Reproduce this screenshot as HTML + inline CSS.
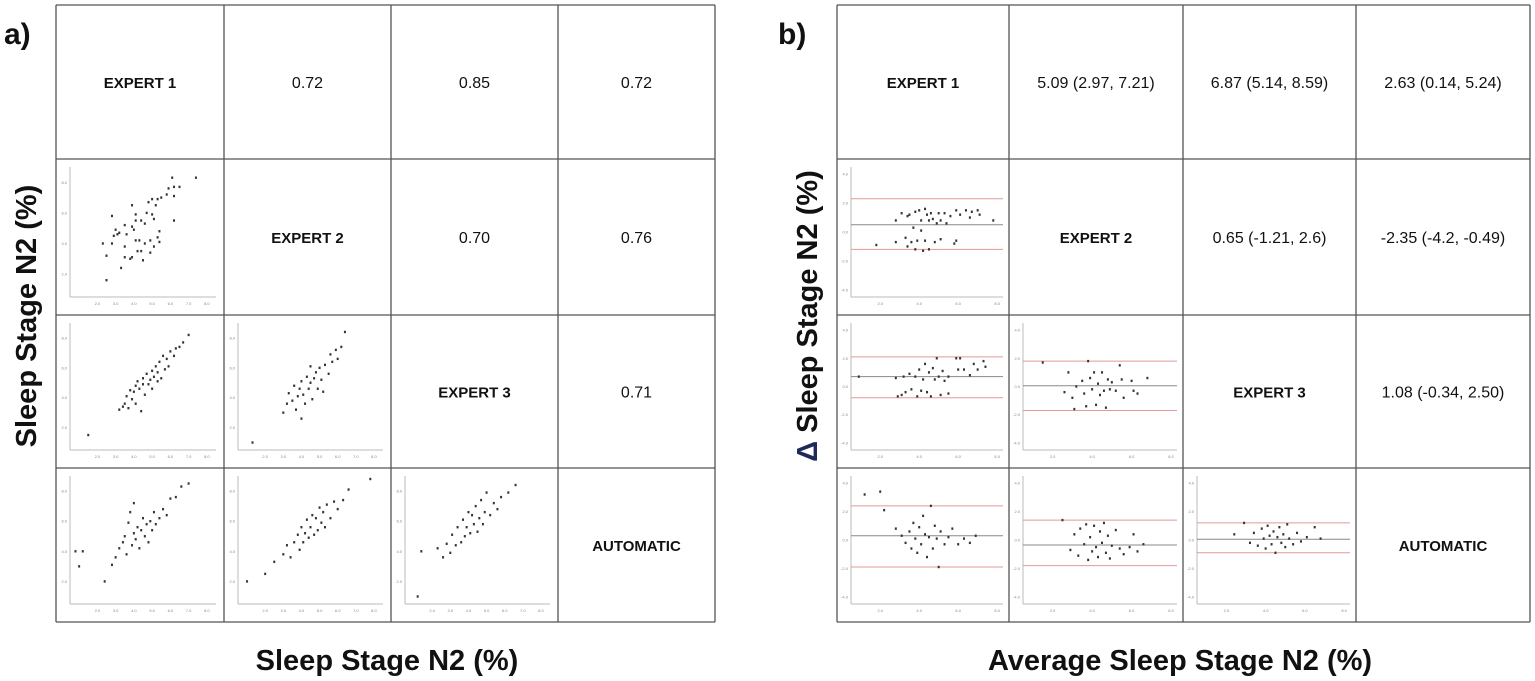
<!DOCTYPE html>
<html><head><meta charset="utf-8">
<style>
body{margin:0;background:#fff;width:1535px;height:681px;overflow:hidden;font-family:"Liberation Sans",sans-serif;}
svg{display:block}
</style></head>
<body>
<svg id="fig" width="1535" height="681" xmlns="http://www.w3.org/2000/svg" font-family="Liberation Sans, sans-serif"></svg>
<script>
// ---- data ----
const labels = ["EXPERT 1","EXPERT 2","EXPERT 3","AUTOMATIC"];
const corrValues = {"0-1":"0.72","0-2":"0.85","0-3":"0.72","1-2":"0.70","1-3":"0.76","2-3":"0.71"};
const biasValues = {"0-1":"5.09 (2.97, 7.21)","0-2":"6.87 (5.14, 8.59)","0-3":"2.63 (0.14, 5.24)","1-2":"0.65 (-1.21, 2.6)","1-3":"-2.35 (-4.2, -0.49)","2-3":"1.08 (-0.34, 2.50)"};
const scatterTicks = [2,3,4,5,6,7,8];
const baTicks = [-4,-2,0,2,4];
const sc10 = [[2.3,4],[2.5,3.2],[2.5,1.6],[2.8,4],[2.8,5.8],[2.9,4.5],[3,4.9],[3.1,4.6],[3.2,4.7],[3.3,2.4],[3.5,3.1],[3.5,3.8],[3.5,5.2],[3.6,4.6],[3.8,3],[3.9,3.1],[3.9,6.5],[3.9,5.1],[4,4.9],[4.1,4.2],[4.1,5.9],[4.1,5.5],[4.2,3.5],[4.3,4.2],[4.4,3.5],[4.4,5.5],[4.5,2.9],[4.6,4],[4.6,5.3],[4.7,6],[4.8,6.7],[4.9,4.2],[4.9,3.4],[5,6.9],[5,5.9],[5.1,3.8],[5.1,5.6],[5.2,6.5],[5.3,4.4],[5.3,6.9],[5.4,4.8],[5.4,4.1],[5.5,7],[5.8,7.2],[5.9,7.6],[6.1,8.3],[6.2,5.5],[6.2,7.1],[6.2,7.7],[6.5,7.7],[7.4,8.3]];
const sc20 = [[1.5,1.5],[3.2,3.2],[3.4,3.4],[3.5,3.6],[3.6,4.1],[3.7,3.3],[3.8,4.5],[3.9,3.9],[4,4.4],[4.1,4.8],[4.1,3.6],[4.2,5.1],[4.3,4.6],[4.4,3.1],[4.5,4.9],[4.5,5.3],[4.6,4.2],[4.7,5.6],[4.8,4.9],[4.9,5.2],[5,5.8],[5,4.6],[5.1,5.4],[5.2,6.1],[5.3,5.1],[5.3,5.7],[5.4,6.4],[5.5,5.3],[5.6,6.8],[5.7,5.9],[5.8,6.6],[5.9,6.1],[6,7.1],[6.2,6.8],[6.3,7.3],[6.5,7.4],[6.7,7.7],[7,8.2]];
const sc21 = [[1.3,1],[3,3],[3.2,3.6],[3.3,4.3],[3.5,3.8],[3.6,4.8],[3.7,3.2],[3.8,4.1],[3.9,4.6],[4,2.6],[4,5.1],[4.1,4.2],[4.2,3.6],[4.3,5.4],[4.4,4.6],[4.5,5],[4.5,6.1],[4.6,3.9],[4.7,5.3],[4.8,5.7],[4.9,4.6],[5,6],[5.1,5.2],[5.2,4.4],[5.3,6.2],[5.5,5.6],[5.6,6.9],[5.7,6.4],[5.9,7.2],[6,6.6],[6.2,7.4],[6.4,8.4]];
const sc30 = [[0.8,4],[1,3],[1.2,4],[2.4,2],[2.8,3.1],[3,3.6],[3.2,4.2],[3.4,4.6],[3.5,5],[3.6,3.8],[3.7,5.9],[3.8,6.6],[3.9,4.4],[4,5.2],[4,7.2],[4.1,4.8],[4.2,5.6],[4.3,4.2],[4.4,5.4],[4.5,6.2],[4.6,5],[4.7,5.8],[4.8,4.6],[4.9,6],[5,5.4],[5.1,6.6],[5.2,5.8],[5.4,6.2],[5.6,6.8],[5.8,6.4],[6,7.5],[6.3,7.6],[6.6,8.3],[7,8.5]];
const sc31 = [[1,2],[2,2.5],[2.5,3.3],[3,3.8],[3.2,4.4],[3.4,3.6],[3.6,4.6],[3.8,5.1],[3.9,4.1],[4,5.6],[4.1,4.6],[4.2,5.2],[4.3,6.1],[4.4,4.9],[4.5,5.6],[4.6,6.4],[4.7,5.1],[4.8,6.2],[4.9,5.4],[5,6.9],[5.1,5.9],[5.2,6.6],[5.3,5.6],[5.4,7.1],[5.6,6.2],[5.8,7.3],[6,6.8],[6.3,7.4],[6.6,8.1],[7.8,8.8]];
const sc32 = [[1.2,1],[1.4,4],[2.3,4.2],[2.6,3.6],[2.8,4.5],[3,3.9],[3.1,5.1],[3.3,4.4],[3.4,5.6],[3.6,4.6],[3.7,6.1],[3.8,5],[3.9,5.6],[4,6.6],[4.1,5.2],[4.2,6.4],[4.3,5.8],[4.4,7],[4.5,5.3],[4.6,6.2],[4.7,7.4],[4.8,5.8],[4.9,6.6],[5,7.9],[5.2,6.4],[5.4,7.2],[5.6,6.8],[5.8,7.6],[6.2,7.9],[6.6,8.4]];
const baMeans = {"1-0":0.5,"2-0":0.7,"2-1":0.05,"3-0":0.3,"3-1":-0.35,"3-2":0.05};
const baUpper = {"1-0":2.3,"2-0":2.1,"2-1":1.8,"3-0":2.4,"3-1":1.4,"3-2":1.2};
const baLower = {"1-0":-1.2,"2-0":-0.8,"2-1":-1.7,"3-0":-1.9,"3-1":-1.8,"3-2":-0.9};
const ba10 = [[1.8,-0.9],[2.8,-0.7],[2.8,0.8],[3.1,1.3],[3.3,-0.4],[3.4,1.1],[3.4,-1],[3.5,1.2],[3.6,-0.7],[3.7,0.3],[3.8,1.4],[3.8,-1.2],[3.9,-0.6],[4,1.5],[4.1,0.8],[4.1,0.1],[4.2,-1.3],[4.3,1.6],[4.3,-0.6],[4.4,1.2],[4.5,0.8],[4.5,-1.2],[4.6,1.3],[4.7,0.9],[4.8,-0.7],[4.9,0.6],[5,1.3],[5.1,0.8],[5.1,-0.5],[5.3,1.3],[5.4,0.6],[5.6,1.1],[5.8,-0.8],[5.9,-0.6],[5.9,1.5],[6.1,1.2],[6.4,1.5],[6.6,1],[6.7,1.4],[7,1.5],[7.1,1.2],[7.8,0.8]];
const ba20 = [[0.9,0.7],[2.8,0.6],[2.9,-0.7],[3.1,-0.6],[3.2,0.7],[3.3,-0.4],[3.5,0.9],[3.6,-0.2],[3.8,0.7],[3.9,-0.7],[4,1.2],[4.1,-0.3],[4.2,0.5],[4.3,1.6],[4.4,-0.4],[4.5,1.0],[4.6,-0.7],[4.7,1.3],[4.8,0.5],[4.9,2],[5,0.7],[5.1,-0.6],[5.2,1.1],[5.3,0.4],[5.5,0.7],[5.5,-0.5],[5.9,2],[6,1.2],[6.1,2],[6.3,1.2],[6.6,0.8],[6.8,1.6],[7,1.2],[7.3,1.8],[7.4,1.4]];
const ba21 = [[1.5,1.7],[2.6,-0.4],[2.8,1.0],[3,-0.8],[3.1,-1.6],[3.2,0],[3.5,0.4],[3.6,-0.5],[3.7,-1.4],[3.8,1.8],[3.9,0.6],[4,-0.2],[4.1,1.0],[4.2,-1.3],[4.3,0.2],[4.4,-0.6],[4.5,1.0],[4.6,-0.3],[4.7,-1.5],[4.8,0.5],[4.9,-0.2],[5,0.3],[5.2,-0.3],[5.4,1.5],[5.5,0.5],[5.6,-0.8],[6,0.4],[6.1,-0.3],[6.3,-0.5],[6.8,0.6]];
const ba30 = [[1.2,3.2],[2,3.4],[2.2,2.1],[2.8,0.8],[3.1,0.3],[3.3,-0.2],[3.5,0.6],[3.6,-0.6],[3.7,1.2],[3.8,0.1],[3.9,-0.9],[4,0.9],[4.1,-0.3],[4.2,1.7],[4.3,0.4],[4.4,-1.2],[4.5,0.2],[4.6,2.4],[4.7,-0.6],[4.8,1.0],[4.9,0.1],[5,-1.9],[5.1,0.6],[5.3,-0.3],[5.5,0.2],[5.7,0.8],[6,-0.3],[6.3,0.1],[6.6,-0.2],[6.9,0.3]];
const ba31 = [[2.5,1.4],[2.9,-0.7],[3.1,0.4],[3.3,-1.1],[3.4,0.8],[3.6,-0.3],[3.7,1.1],[3.8,-1.4],[3.9,0.2],[4,-0.8],[4.1,1.0],[4.2,-0.5],[4.3,-1.2],[4.4,0.6],[4.5,-0.2],[4.6,1.2],[4.7,-0.9],[4.8,0.3],[4.9,-1.3],[5,-0.4],[5.2,0.7],[5.4,-0.6],[5.6,-1.0],[5.9,-0.5],[6.1,0.4],[6.3,-0.8],[6.6,-0.3]];
const ba32 = [[2.4,0.4],[2.9,1.2],[3.2,-0.2],[3.4,0.5],[3.6,-0.4],[3.8,0.8],[3.9,0.1],[4,-0.6],[4.1,1.0],[4.2,0.3],[4.3,-0.3],[4.4,0.6],[4.5,-0.9],[4.6,0.2],[4.7,0.9],[4.8,-0.2],[4.9,0.4],[5,-0.5],[5.1,1.1],[5.2,0.1],[5.4,-0.3],[5.6,0.5],[5.8,-0.1],[6.1,0.2],[6.5,0.9],[6.8,0.1]];
const scatterSets = {"1-0":sc10,"2-0":sc20,"2-1":sc21,"3-0":sc30,"3-1":sc31,"3-2":sc32};
const baSets = {"1-0":ba10,"2-0":ba20,"2-1":ba21,"3-0":ba30,"3-1":ba31,"3-2":ba32};

// ---- drawing ----
const NS="http://www.w3.org/2000/svg";
const svg=document.getElementById('fig');
function mk(tag,attrs,parent){const e=document.createElementNS(NS,tag);for(const k in attrs)e.setAttribute(k,attrs[k]);(parent||svg).appendChild(e);return e;}
const rowsY=[5,159,315,468,622];
const colsL=[56,224,391,558,715];
const colsR=[837,1009,1183,1356,1530];

function grid(cols,name){
  const g=mk('g',{});
  
  
  for(const x of cols){mk('line',{x1:x,y1:rowsY[0],x2:x,y2:rowsY[4],stroke:'#555','stroke-width':1.3},g);}
  for(const y of rowsY){mk('line',{x1:cols[0],y1:y,x2:cols[4],y2:y,stroke:'#555','stroke-width':1.3},g);}
}
grid(colsL,'correlation-grid');
grid(colsR,'bland-altman-grid');

function cellText(cx,cy,txt,bold,name){
  const t=mk('text',{x:cx,y:cy+6,'text-anchor':'middle','font-size':bold?15:16,'font-weight':bold?'bold':'normal',fill:'#111'});
  t.textContent=txt;
  
  
}

function plotAxes(g,x0,y0,w,h,xt,yt,xmin,xmax,ymin,ymax){
  const sx=v=>x0+(v-xmin)/(xmax-xmin)*w;
  const sy=v=>y0+h-(v-ymin)/(ymax-ymin)*h;
  mk('line',{x1:x0,y1:y0,x2:x0,y2:y0+h,stroke:'#bbb','stroke-width':1},g);
  mk('line',{x1:x0,y1:y0+h,x2:x0+w,y2:y0+h,stroke:'#bbb','stroke-width':1},g);
  for(const v of xt){const t=mk('text',{x:sx(v),y:y0+h+8,'font-size':4,'text-anchor':'middle',fill:'#888'},g);t.textContent=v.toFixed(1);}
  for(const v of yt){const t=mk('text',{x:x0-3,y:sy(v)+1.5,'font-size':4,'text-anchor':'end',fill:'#888'},g);t.textContent=v.toFixed(1);}
  return [sx,sy];
}

for(let r=0;r<4;r++){
  for(let c=0;c<4;c++){
    const key=r+'-'+c;
    const lx=colsL[c],lw=colsL[c+1]-colsL[c],ty=rowsY[r],th=rowsY[r+1]-rowsY[r];
    const rx=colsR[c],rw=colsR[c+1]-colsR[c];
    if(r===c){
      cellText(lx+lw/2,ty+th/2,labels[r],true,'label-left-'+labels[r].toLowerCase().replace(' ','-'));
      cellText(rx+rw/2,ty+th/2,labels[r],true,'label-right-'+labels[r].toLowerCase().replace(' ','-'));
    } else if(c>r){
      cellText(lx+lw/2,ty+th/2,corrValues[r+'-'+c],false,'correlation-'+key);
      cellText(rx+rw/2,ty+th/2,biasValues[r+'-'+c],false,'bias-'+key);
    } else {
      const g=mk('g',{});
      
      
      const [sx,sy]=plotAxes(g,lx+14,ty+8,lw-22,th-26,scatterTicks,[2,4,6,8],0.5,8.5,0.5,9);
      for(const p of scatterSets[key]){
        const d=mk('rect',{x:sx(p[0])-1,y:sy(p[1])-1.2,width:2,height:2.4,fill:'#333'},g);
        
        
      }
      const b=mk('g',{});
      
      
      const [bx,by]=plotAxes(b,rx+14,ty+8,rw-20,th-26,[2,4,6,8],baTicks,0.5,8.3,-4.5,4.5);
      const x1=rx+14,x2=rx+rw-6;
      const m=mk('line',{x1:x1,x2:x2,y1:by(baMeans[key]),y2:by(baMeans[key]),stroke:'#888','stroke-width':1},b);
      
      
      const u=mk('line',{x1:x1,x2:x2,y1:by(baUpper[key]),y2:by(baUpper[key]),stroke:'#e29a9a','stroke-width':1},b);
      
      
      const lo=mk('line',{x1:x1,x2:x2,y1:by(baLower[key]),y2:by(baLower[key]),stroke:'#e29a9a','stroke-width':1},b);
      
      
      for(const p of baSets[key]){
        const d=mk('rect',{x:bx(p[0])-1,y:by(p[1])-1.2,width:2,height:2.4,fill:'#333'},b);
        
        
      }
    }
  }
}
</script>
<svg style="position:absolute;left:0;top:0" width="1535" height="681" xmlns="http://www.w3.org/2000/svg">
  <text x="4" y="44" font-family="Liberation Sans, sans-serif" font-size="30" font-weight="bold" fill="#111">a)</text>
  <text x="778" y="44" font-family="Liberation Sans, sans-serif" font-size="30" font-weight="bold" fill="#111">b)</text>
  <text transform="translate(36,316) rotate(-90)" text-anchor="middle" font-family="Liberation Sans, sans-serif" font-size="29" font-weight="bold" fill="#111">Sleep Stage N2 (%)</text>
  <text transform="translate(817,316) rotate(-90)" text-anchor="middle" font-family="Liberation Sans, sans-serif" font-size="29" font-weight="bold" fill="#111"><tspan fill="#1f2a5a">Δ</tspan> Sleep Stage N2 (%)</text>
  <text x="387" y="670" text-anchor="middle" font-family="Liberation Sans, sans-serif" font-size="29" font-weight="bold" fill="#111">Sleep Stage N2 (%)</text>
  <text x="1180" y="670" text-anchor="middle" font-family="Liberation Sans, sans-serif" font-size="29" font-weight="bold" fill="#111">Average Sleep Stage N2 (%)</text>
</svg>
</body></html>
